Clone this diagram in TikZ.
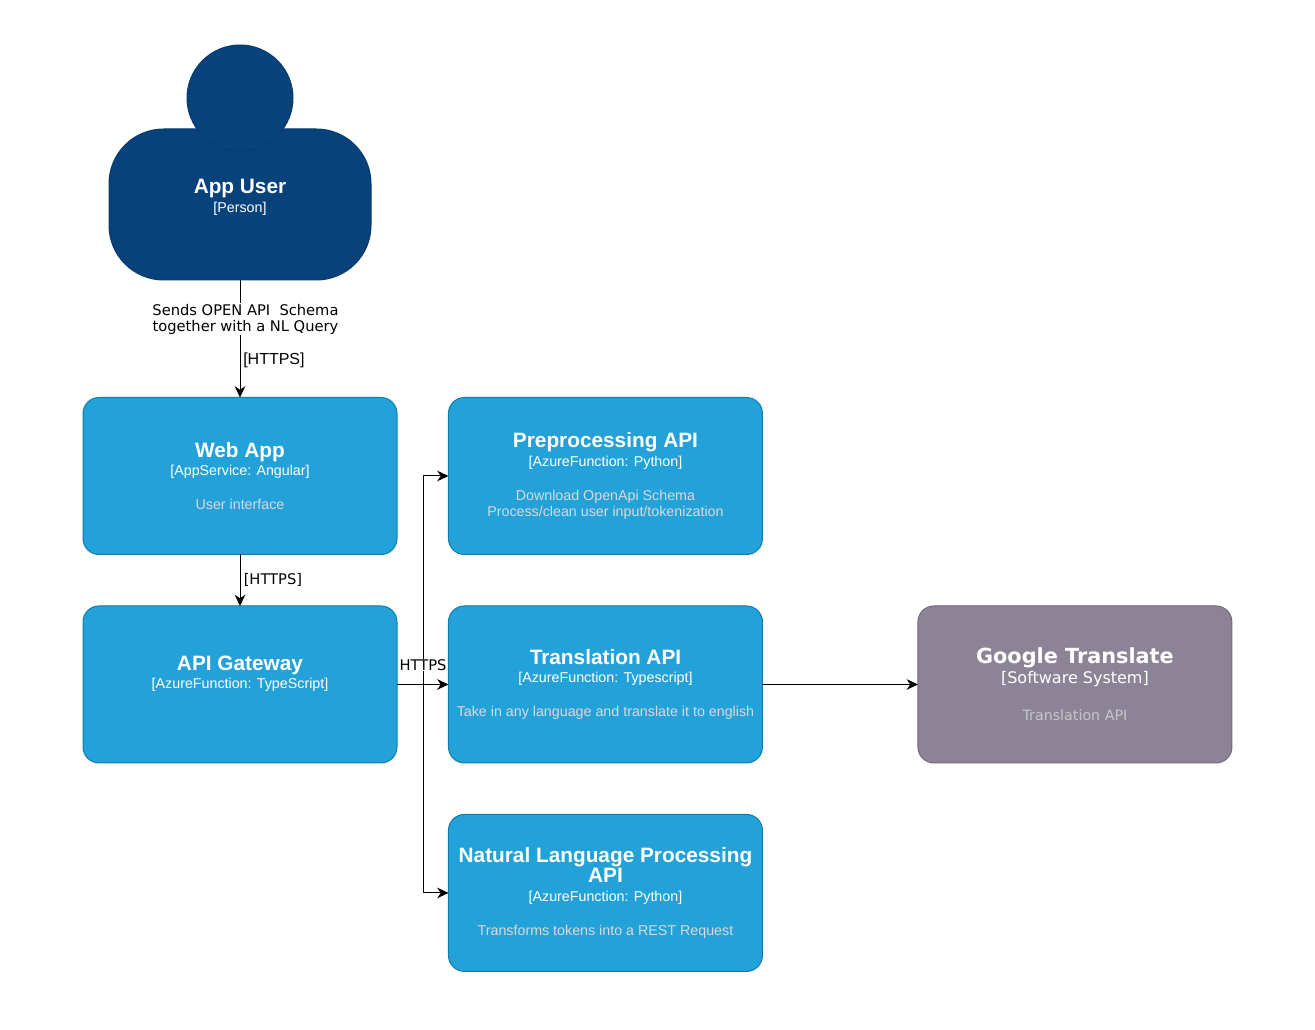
\documentclass[tikz,border=0pt]{standalone}
\usepackage{fontspec}
\setmainfont{Liberation Sans}
\newfontfamily\verdanafont{DejaVu Sans}
\usetikzlibrary{positioning, arrows.meta}

\definecolor{personblue}{HTML}{08427B}
\definecolor{personedge}{HTML}{073B6F}
\definecolor{apiblue}{HTML}{23A2D9}
\definecolor{apiedge}{HTML}{0E7DAD}
\definecolor{extgray}{HTML}{8C8496}
\definecolor{extedge}{HTML}{736782}

\newcommand{\boxtitle}[1]{{\fontsize{15.6}{19}\selectfont\bfseries #1}}
\newcommand{\boxtech}[1]{{\fontsize{10.7}{15.5}\selectfont #1}}
\newcommand{\boxdesc}[1]{{\fontsize{10.7}{14}\selectfont\color{white!85!black} #1}}

\tikzset{
	api/.style={draw=apiedge, fill=apiblue, rounded corners=12pt, text=white, align=center,
		minimum width=235.5pt, minimum height=117.75pt, inner sep=0pt, outer sep=0pt, line width=0.75pt},
	ext/.style={api, draw=extedge, fill=extgray},
	conn/.style={black, line width=0.75pt, -{Stealth[length=8.5pt, width=8pt]}},
	lbl/.style={fill=white, inner sep=0.5pt, text=black, align=center},
}

\begin{document}
\begin{tikzpicture}[x=0.75pt, y=-0.75pt]
	\useasboundingbox (0, 0) rectangle (1315, 1030);

	% person
	\node[draw=personedge, fill=personblue, rounded corners=41pt, minimum width=196.5pt, minimum height=113.25pt,
		inner sep=0pt, outer sep=0pt, line width=0.75pt] (userbody) at (240, 204.5) {};
	\node[circle, draw=personedge, fill=personblue, minimum size=79.5pt, inner sep=0pt, outer sep=0pt, line width=0.75pt] (userhead) at (240, 98) {};
	\node[text=white, align=center, inner sep=0pt] (usertext) at (240, 197) {\boxtitle{App User}\\[2pt]\boxtech{[Person]}};

	% containers
	\node[api] (webapp) at (240, 476) {\boxtitle{Web App}\\[2pt]\boxtech{[AppService: Angular]}\\[13.5pt]\boxdesc{User interface}};
	\node[api, below=38.6pt of webapp] (gateway) {\boxtitle{API Gateway}\\[2pt]\boxtech{[AzureFunction: TypeScript]}\\[1pt]\boxdesc{\strut}};
	\node[api, right=38.6pt of webapp] (preproc) {\boxtitle{Preprocessing API}\\[2pt]\boxtech{[AzureFunction: Python]}\\[13.5pt]\boxdesc{Download OpenApi Schema}\\[0.5pt]\boxdesc{Process/clean user input/tokenization}};
	\node[api, right=38.6pt of gateway] (translation) {\boxtitle{Translation API}\\[2pt]\boxtech{[AzureFunction: Typescript]}\\[13.5pt]\boxdesc{Take in any language and translate it to english}};
	\node[api, below=38.6pt of translation] (nlp) {\boxtitle{Natural Language Processing}\\[0pt]\boxtitle{API}\\[2pt]\boxtech{[AzureFunction: Python]}\\[13.5pt]\boxdesc{Transforms tokens into a REST Request}};
	\node[ext, right=116.6pt of translation] (google) {\verdanafont\boxtitle{Google Translate}\\[1.75pt]{\verdanafont\fontsize{12}{15}\selectfont [Software System]}\\[15.75pt]{\verdanafont\fontsize{10.7}{14}\selectfont\color{white!78!black} Translation API}};

	\coordinate (bus) at (423, 684.5);

	% connectors
	\draw[conn] (userbody) -- (webapp);
	\draw[conn] (webapp) -- (gateway);
	\draw[conn] (gateway) -- (translation);
	\draw[conn] (bus) |- (preproc);
	\draw[conn] (bus) |- (nlp);
	\draw[conn] (translation) -- (google);

	% labels
	\node[lbl, font=\verdanafont\fontsize{11}{12}\selectfont] (sendslbl) at (245.5, 319) {Sends OPEN API\ \ Schema\\together with a NL Query};
	\node[anchor=west, inner sep=0pt, font=\fontsize{12}{14}\selectfont] (httpsa) at (243, 360) {[HTTPS]};
	\node[anchor=west, inner sep=0pt, font=\verdanafont\fontsize{11}{12}\selectfont] (httpsb) at (243.5, 580) {[HTTPS]};
	\node[lbl, font=\verdanafont\fontsize{11}{12}\selectfont] (httpsc) at (423, 665) {HTTPS};
\end{tikzpicture}
\end{document}
